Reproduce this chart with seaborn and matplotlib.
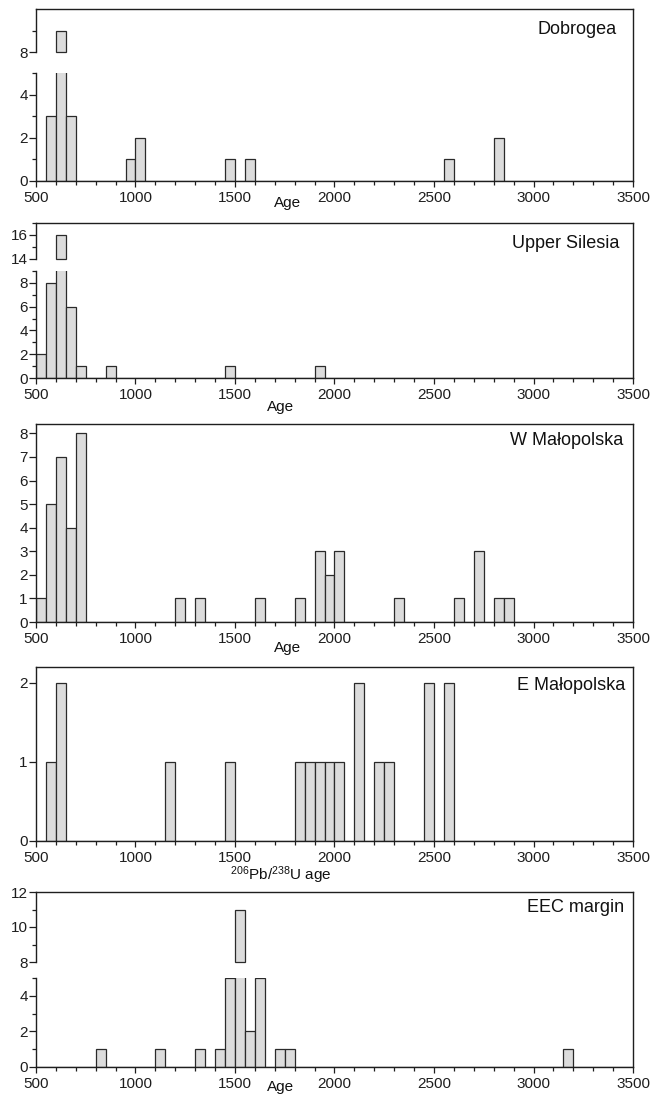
import numpy as np
import pandas as pd
import matplotlib
matplotlib.use('Agg')
import matplotlib.pyplot as plt
from matplotlib.transforms import offset_copy
import seaborn as sns

sns.set_style('ticks')
plt.rcParams['font.family'] = ['Liberation Sans', 'DejaVu Sans']
plt.rcParams['mathtext.fontset'] = 'custom'
plt.rcParams['mathtext.rm'] = 'Liberation Sans'
plt.rcParams['mathtext.it'] = 'Liberation Sans:italic'

# bin start ages and zircon counts (bins of 50 Ma)
dobrogea_age = [550, 600, 650, 950, 1000, 1450, 1550, 2550, 2800]
dobrogea_n = [3, 9, 3, 1, 2, 1, 1, 1, 2]

silesia_age = [500, 550, 600, 650, 700, 850, 1450, 1900]
silesia_n = [2, 8, 16, 6, 1, 1, 1, 1]

w_mal_age = [500, 550, 600, 650, 700, 1200, 1300, 1600, 1800, 1900, 1950,
             2000, 2300, 2600, 2700, 2800, 2850]
w_mal_n = [1, 5, 7, 4, 8, 1, 1, 1, 1, 3, 2, 3, 1, 1, 3, 1, 1]

e_mal_age = [550, 600, 1150, 1450, 1800, 1850, 1900, 1950, 2000, 2100,
             2200, 2250, 2450, 2550]
e_mal_n = [1, 2, 1, 1, 1, 1, 1, 1, 1, 2, 1, 1, 2, 2]

eec_age = [800, 1100, 1300, 1400, 1450, 1500, 1550, 1600, 1700, 1750, 3150]
eec_n = [1, 1, 1, 1, 5, 11, 2, 5, 1, 1, 1]

names = ['Dobrogea', 'Upper Silesia', 'W Małopolska', 'E Małopolska', 'EEC margin']
xlabels = ['Age', 'Age', 'Age', r'$^{206}$Pb/$^{238}$U age', 'Age']
ages = [dobrogea_age, silesia_age, w_mal_age, e_mal_age, eec_age]
counts = [dobrogea_n, silesia_n, w_mal_n, e_mal_n, eec_n]

# layout in pixels: y segments (top, bottom, ylim, major, minor), title offset, xlabel pos
W, H = 650, 1104
X0, X1 = 36, 633
layout = [
    dict(segs=[(9, 52, (8, 10), [8], [9]),
               (73, 181, (0, 5), [0, 2, 4], [1, 3, 5])],
         title=(16, 21), lab=(0.422, 15)),
    dict(segs=[(223, 259, (14, 17), [14, 16], [15, 17]),
               (271, 378, (0, 9), [0, 2, 4, 6, 8], [1, 3, 5, 7, 9])],
         title=(14, 20), lab=(0.41, 22)),
    dict(segs=[(424, 622, (0, 8.4), list(range(9)), [])],
         title=(10, 17), lab=(0.422, 19)),
    dict(segs=[(667, 841, (0, 2.2), [0, 1, 2], [])],
         title=(8, 18), lab=(0.41, 23)),
    dict(segs=[(892, 962, (8, 12), [8, 10, 12], [9, 11]),
               (978, 1067, (0, 5), [0, 2, 4], [1, 3, 5])],
         title=(9, 15), lab=(0.41, 13)),
]

FACE = '#dcdcdc'
EDGE = '#2a2a2a'
SPINE = '#1e1e1e'


def rect(top, bottom):
    return [X0 / W, 1 - bottom / H, (X1 - X0) / W, (bottom - top) / H]


fig = plt.figure(figsize=(W / 100, H / 100), dpi=100)

for name, xlab, age, n, lay in zip(names, xlabels, ages, counts, layout):
    segs = lay['segs']
    df = pd.DataFrame({'age': np.array(age) + 25, 'n': n})

    # outer frame: top and right lines run through the break
    frame = fig.add_axes(rect(segs[0][0], segs[-1][1]))
    frame.patch.set_alpha(0)
    frame.set_xticks([])
    frame.set_yticks([])
    for side in ['left', 'bottom']:
        frame.spines[side].set_visible(False)
    for side in ['top', 'right']:
        frame.spines[side].set_color(SPINE)
        frame.spines[side].set_linewidth(1.0)
    dx, dy = lay['title']
    frame.annotate(name, xy=(1, 1), xycoords='axes fraction',
                   xytext=(-dx, -dy), textcoords='offset pixels',
                   ha='right', va='center', fontsize=13, color='#111111')

    for i, (top, bot, ylim, major, minor) in enumerate(segs):
        last = i == len(segs) - 1
        ax = fig.add_axes(rect(top, bot))
        ax.patch.set_alpha(0)
        sns.histplot(data=df, x='age', weights='n', binwidth=50,
                     binrange=(500, 3500), ax=ax, color=FACE,
                     edgecolor=EDGE, linewidth=0.9, alpha=1)
        ax.set_xlim(500, 3500)
        ax.set_ylim(*ylim)
        if ylim[0] > 0:
            # upper part of a broken axis: start the tall bars at the break
            for p in ax.patches:
                h = p.get_height()
                if h > ylim[0]:
                    p.set_y(ylim[0])
                    p.set_height(h - ylim[0])
                    p.set_clip_on(False)
        ax.set_yticks(major)
        ax.set_yticks(minor, minor=True)
        ax.set_ylabel('')
        ax.set_xlabel('')
        for side in ['top', 'right']:
            ax.spines[side].set_visible(False)
        for side in ['left', 'bottom']:
            ax.spines[side].set_color(SPINE)
            ax.spines[side].set_linewidth(1.0)
        ax.tick_params(axis='y', which='major', length=5, width=0.9,
                       pad=1, labelsize=11, colors=SPINE)
        ax.tick_params(axis='y', which='minor', length=3, width=0.9,
                       colors=SPINE)
        ax.set_xticks(np.arange(500, 3501, 500))
        ax.set_xticks(np.arange(500, 3501, 100), minor=True)
        if last:
            ax.tick_params(axis='x', which='major', length=4.5, width=0.9,
                           pad=2.5, labelsize=11, colors=SPINE)
            ax.tick_params(axis='x', which='minor', length=2.8, width=0.9,
                           colors=SPINE)
            ax.set_xlabel(xlab, fontsize=11, color='#111111')
            lx, ly = lay['lab']
            ax.xaxis.set_label_coords(
                lx, 0, transform=offset_copy(ax.transAxes, fig=fig, y=-ly, units='dots'))
        else:
            ax.spines['bottom'].set_visible(False)
            ax.tick_params(axis='x', which='both', bottom=False,
                           labelbottom=False)

fig.savefig('out.png', dpi=100)
